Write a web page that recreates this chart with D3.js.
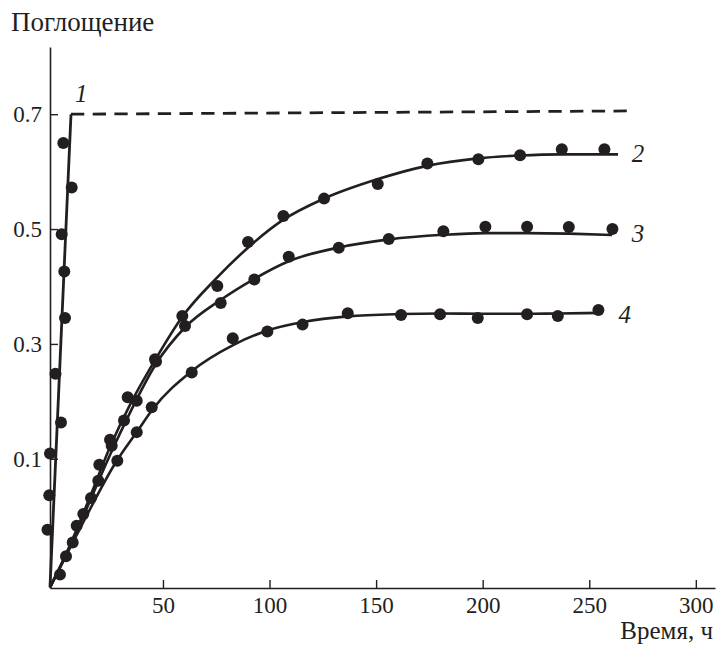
<!DOCTYPE html>
<html>
<head>
<meta charset="utf-8">
<script src="https://cdn.jsdelivr.net/npm/d3@7.9.0/dist/d3.min.js"></script>
<style>
  html, body { margin: 0; padding: 0; background: #fff; }
  svg { display: block; }
</style>
</head>
<body>
<svg id="chart" width="719" height="645"></svg>
<script>
// ticks
const xTicks = [50, 100, 150, 200, 250, 300];
const yTicks = [0.1, 0.3, 0.5, 0.7];

// curve 1: solid rise then dashed plateau
const line1Solid = [[-3, -0.124], [6.85, 0.7]];
const line1Dash = [[6.85, 0.7], [270.1, 0.7057]];
const dots1 = [
  [3.24, 0.650], [7.18, 0.5725], [2.49, 0.491], [3.71, 0.426], [4.04, 0.345],
  [-0.42, 0.248], [2.16, 0.163], [-3.0, 0.109], [-3.33, 0.0365], [-4.17, -0.0235]
];

// curve 2
const line2 = [
  [-3, -0.124], [6.4, -0.05], [15.8, 0.034], [25.2, 0.121], [34.5, 0.194],
  [46.3, 0.272], [59, 0.347], [75, 0.414], [90, 0.468], [106, 0.515],
  [125.6, 0.553], [150.9, 0.587], [173.9, 0.61], [197.8, 0.623], [217.5, 0.628],
  [237, 0.63], [263.5, 0.63]
];
const dots2 = [
  [1.69, -0.1017], [7.65, -0.0456], [12.63, 0.0037], [19.67, 0.0617], [25.16, 0.133],
  [33.46, 0.2073], [46.27, 0.2734], [59.08, 0.3487], [75.51, 0.4009], [89.91, 0.4774],
  [106.48, 0.5226], [125.58, 0.553], [150.78, 0.5783], [174.05, 0.6143], [197.98, 0.6217],
  [217.55, 0.6287], [237.12, 0.6391], [257.11, 0.6391]
];

// curve 3
const line3 = [
  [-3, -0.124], [6.4, -0.053], [15.8, 0.027], [25.2, 0.107], [34.5, 0.18],
  [46.7, 0.265], [60.4, 0.329], [76.8, 0.376], [92.7, 0.413], [109, 0.444],
  [132.6, 0.468], [156, 0.482], [181.4, 0.49], [201, 0.493], [221, 0.493],
  [240.5, 0.492], [260.7, 0.4896]
];
const dots3 = [
  [4.51, -0.0699], [9.53, -0.0165], [16.24, 0.0317], [20.13, 0.0896], [25.95, 0.1226],
  [31.73, 0.1666], [37.69, 0.2009], [46.74, 0.2692], [60.35, 0.3313], [77.1, 0.3713],
  [92.87, 0.4122], [109.01, 0.4518], [132.48, 0.4675], [155.94, 0.4826], [181.56, 0.496],
  [201.27, 0.504], [220.84, 0.504], [240.41, 0.5035], [260.87, 0.5]
];

// curve 4
const line4 = [
  [-3, -0.124], [11, -0.022], [28.4, 0.097], [37.8, 0.147], [44.9, 0.185],
  [63.6, 0.253], [82.9, 0.298], [98.8, 0.323], [115.7, 0.338], [136.8, 0.348],
  [161.7, 0.352], [180, 0.353], [200, 0.3525], [220, 0.3525], [235.4, 0.353],
  [255.1, 0.354]
];
const dots4 = [
  [28.58, 0.0965], [37.69, 0.1464], [44.72, 0.1899], [63.5, 0.2501], [82.74, 0.3099],
  [98.97, 0.3217], [115.49, 0.3336], [136.7, 0.3534], [161.71, 0.3504], [180.01, 0.3517],
  [197.7, 0.3452], [220.84, 0.3517], [235.25, 0.3487], [254.3, 0.3591]
];

const curveLabels = [
  { text: "1", t: 8.73, v: 0.7209 },
  { text: "2", t: 269.96, v: 0.6165 },
  { text: "3", t: 269.96, v: 0.4783 },
  { text: "4", t: 263.68, v: 0.3365 }
];

const ink = "#231f20";
const serif = '"Liberation Serif", "Times New Roman", Tinos, "DejaVu Serif", serif';
const svg = d3.select("#chart");

const x = d3.scaleLinear().domain([-3, 309]).range([50, 715]);
const y = d3.scaleLinear().domain([-0.125, 0.817]).range([588, 47]);

// axes
const xAxis = svg.append("g")
  .attr("transform", `translate(0,${y(-0.125)})`)
  .call(d3.axisBottom(x).tickValues(xTicks).tickSizeInner(-8).tickSizeOuter(0).tickPadding(9));
const yAxis = svg.append("g")
  .attr("transform", `translate(${x(-3)},0)`)
  .call(d3.axisLeft(y).tickValues(yTicks).tickFormat(d3.format(".1f")).tickSizeInner(-8).tickSizeOuter(0).tickPadding(8));

[xAxis, yAxis].forEach((g) => {
  g.attr("font-family", serif).attr("font-size", 23);
  g.select(".domain").attr("stroke", ink).attr("stroke-width", 1.6);
  g.selectAll(".tick line").attr("stroke", ink).attr("stroke-width", 1.4);
  g.selectAll(".tick text").attr("fill", ink);
});

svg.append("text")
  .attr("x", 11).attr("y", 31)
  .attr("font-family", serif).attr("font-size", 27).attr("fill", ink)
  .text("Поглощение");

svg.append("text")
  .attr("x", 713).attr("y", 639)
  .attr("text-anchor", "end")
  .attr("font-family", serif).attr("font-size", 25).attr("fill", ink)
  .text("Время, ч");

// lines
const lineGen = d3.line().x((d) => x(d[0])).y((d) => y(d[1]));
const smoothGen = d3.line().x((d) => x(d[0])).y((d) => y(d[1])).curve(d3.curveMonotoneX);

svg.append("path").datum(line1Solid)
  .attr("d", lineGen).attr("fill", "none").attr("stroke", ink).attr("stroke-width", 2.8);
svg.append("path").datum(line1Dash)
  .attr("d", lineGen).attr("fill", "none").attr("stroke", ink).attr("stroke-width", 2.8)
  .attr("stroke-dasharray", "13.3,8.4");

[line2, line3, line4].forEach((data) => {
  svg.append("path").datum(data)
    .attr("d", smoothGen).attr("fill", "none")
    .attr("stroke", ink).attr("stroke-width", 2.6);
});

// dots
[dots1, dots2, dots3, dots4].forEach((data) => {
  svg.append("g").selectAll("circle")
    .data(data)
    .join("circle")
    .attr("cx", (d) => x(d[0]))
    .attr("cy", (d) => y(d[1]))
    .attr("r", 6)
    .attr("fill", ink);
});

// curve numbers
svg.append("g").selectAll("text")
  .data(curveLabels)
  .join("text")
  .attr("x", (d) => x(d.t))
  .attr("y", (d) => y(d.v))
  .attr("font-family", serif)
  .attr("font-size", 25)
  .attr("font-style", "italic")
  .attr("fill", ink)
  .text((d) => d.text);
</script>
</body>
</html>
